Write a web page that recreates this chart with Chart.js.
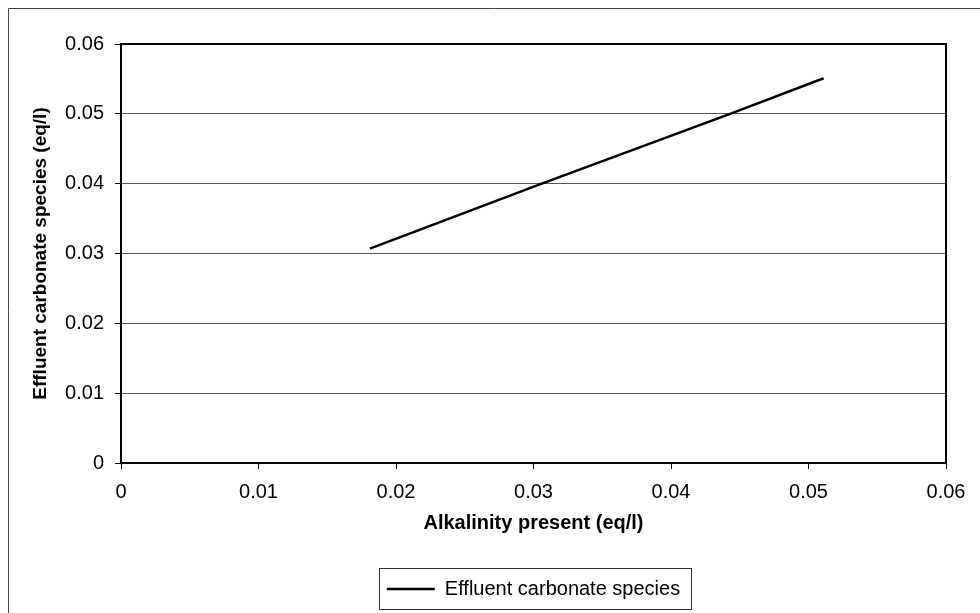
<!DOCTYPE html>
<html>
<head>
<meta charset="utf-8">
<script src="https://cdn.jsdelivr.net/npm/chart.js@4"></script>
<style>
html,body{margin:0;padding:0;background:#fff;}
#wrap{width:980px;height:613px;position:relative;}
</style>
</head>
<body>
<div id="wrap"><canvas id="c" width="980" height="613"></canvas></div>
<script>
const seriesName = "Effluent carbonate species";
const alkalinity = [0.0181, 0.0306, 0.0443, 0.0511];
const effluent = [0.0307, 0.0400, 0.0500, 0.0551];
const xTickValues = [0, 0.01, 0.02, 0.03, 0.04, 0.05, 0.06];
const yTickValues = [0, 0.01, 0.02, 0.03, 0.04, 0.05, 0.06];
const xTitle = "Alkalinity present (eq/l)";
const yTitle = "Effluent carbonate species (eq/l)";

const FONT = "'Liberation Sans', Arial, sans-serif";
const fmt = v => String(Number(v.toFixed(2)));

const framePlugin = {
  id: 'frames',
  beforeDraw(chart) {
    const ctx = chart.ctx;
    ctx.save();
    ctx.fillStyle = '#fff';
    ctx.fillRect(0, 0, chart.width, chart.height);
    ctx.strokeStyle = '#444';
    ctx.lineWidth = 1;
    ctx.beginPath();
    ctx.moveTo(8.5, chart.height + 2);
    ctx.lineTo(8.5, 8.5);
    ctx.lineTo(chart.width + 2, 8.5);
    ctx.stroke();
    ctx.restore();
  },
  afterDraw(chart) {
    const ctx = chart.ctx;
    const a = chart.chartArea;
    ctx.save();
    ctx.strokeStyle = '#000';
    ctx.lineWidth = 2;
    ctx.strokeRect(a.left, a.top, a.right - a.left, a.bottom - a.top);
    const lg = chart.legend;
    if (lg && lg.legendHitBoxes && lg.legendHitBoxes.length) {
      const hb = lg.legendHitBoxes[0];
      ctx.strokeStyle = '#333';
      ctx.lineWidth = 1;
      ctx.strokeRect(Math.round(hb.left - 8) + 0.5, Math.round(hb.top - 11) + 0.5,
                     Math.round(hb.width + 19), Math.round(hb.height + 21));
    }
    ctx.restore();
  }
};

new Chart(document.getElementById('c'), {
  type: 'scatter',
  data: {
    datasets: [{
      label: seriesName,
      data: alkalinity.map((x, i) => ({x: x, y: effluent[i]})),
      showLine: true,
      borderColor: '#000',
      backgroundColor: '#000',
      borderWidth: 2.5,
      pointRadius: 0,
      pointHoverRadius: 0,
      tension: 0
    }]
  },
  options: {
    responsive: false,
    animation: false,
    events: [],
    layout: { padding: { left: 0, top: 44, right: 34, bottom: 4 } },
    plugins: {
      tooltip: { enabled: false },
      legend: {
        position: 'bottom',
        fullSize: false,
        labels: {
          usePointStyle: true,
          pointStyle: 'line',
          pointStyleWidth: 48,
          boxHeight: 19,
          color: '#000',
          padding: 12,
          font: { family: FONT, size: 20 }
        }
      }
    },
    scales: {
      x: {
        type: 'linear',
        min: 0, max: 0.06,
        afterBuildTicks: s => { s.ticks = xTickValues.map(v => ({value: v})); },
        afterFit: s => { s.height = 104; },
        ticks: { color: '#000', padding: 11, font: { family: FONT, size: 20 }, callback: v => fmt(v), maxRotation: 0, autoSkip: false },
        grid: { drawOnChartArea: false, drawTicks: true, tickLength: 6, tickColor: '#000', tickWidth: 1 },
        border: { display: true, color: '#000', width: 2 },
        title: { display: true, text: xTitle, color: '#000', padding: { top: 0, bottom: 32 }, font: { family: FONT, size: 20, weight: 'bold' } }
      },
      y: {
        type: 'linear',
        min: 0, max: 0.06,
        afterBuildTicks: s => { s.ticks = yTickValues.map(v => ({value: v})); },
        afterFit: s => { s.width = 121; },
        ticks: { color: '#000', padding: 11, font: { family: FONT, size: 20 }, callback: v => fmt(v), autoSkip: false },
        grid: { drawOnChartArea: true, color: '#555', lineWidth: 1, drawTicks: true, tickLength: 6, tickColor: '#000' },
        border: { display: true, color: '#000', width: 2 },
        title: { display: true, text: yTitle, color: '#000', padding: { top: 29, bottom: 0 }, font: { family: FONT, size: 19, weight: 'bold' } }
      }
    }
  },
  plugins: [framePlugin]
});
</script>
</body>
</html>
